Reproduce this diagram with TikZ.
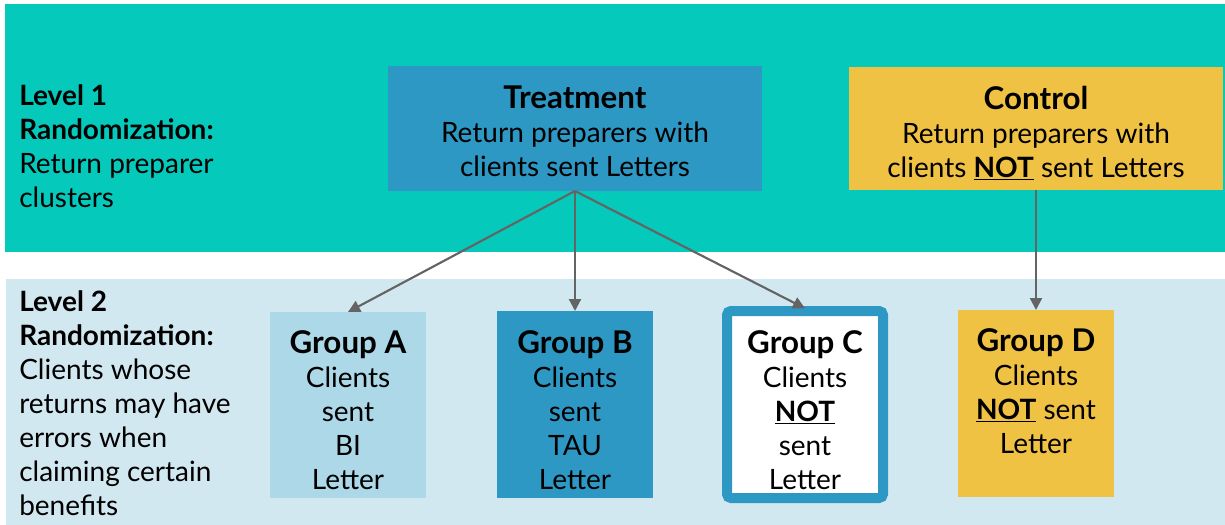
\documentclass[tikz,border=0pt]{standalone}
\usepackage{fontspec}
\setmainfont{Lato}
\usetikzlibrary{arrows.meta}
\definecolor{teal1}{RGB}{4,201,187}
\definecolor{lightbg}{RGB}{210,232,240}
\definecolor{blue1}{RGB}{46,152,196}
\definecolor{yellow1}{RGB}{240,194,68}
\definecolor{groupa}{RGB}{173,216,232}
\definecolor{arrowgray}{RGB}{100,100,100}
\newcommand\bodyfont{\fontsize{21pt}{25.5pt}\selectfont}
\newcommand\titlefont{\fontsize{23.5pt}{25.5pt}\selectfont\bfseries}
\newcommand\notu{\underline{NOT}}
\tikzset{
  boxnode/.style={draw=none, inner sep=0pt, outer sep=0pt, minimum width=117pt},
  txt/.style={inner sep=0pt, font=\bodyfont, text=black},
  conn/.style={draw=arrowgray, line width=1.6pt, -{Triangle[length=9pt,width=9pt]}}
}
\begin{document}
\begin{tikzpicture}[x=0.75pt,y=-0.75pt]
\useasboundingbox (0,0) rectangle (1225,525);
\fill[white] (0,0) rectangle (1225,525);
\fill[teal1] (5,4) rectangle (1225,252);
\fill[lightbg] (6,279) rectangle (1225,525);
% level boxes
\node[boxnode, fill=blue1, minimum width=280.5pt, minimum height=93.75pt] (treat) at (575,128.5) {};
\node[boxnode, fill=yellow1, minimum width=280.5pt, minimum height=92.25pt] (ctrl) at (1036,128.5) {};
\node[boxnode, fill=groupa, minimum height=139.5pt] (ga) at (348,405) {};
\node[boxnode, fill=blue1, minimum height=140.25pt] (gb) at (575,404.5) {};
\node[boxnode, fill=white, draw=blue1, line width=7.5pt, rounded corners=3pt, minimum height=140.25pt] (gc) at (805,404.5) {};
\node[boxnode, fill=yellow1, minimum height=140.25pt] (gd) at (1036,403.5) {};
% texts
\node[txt, anchor=north west, align=left] (l1) at (19,84) {\textbf{Level 1}\\\textbf{Randomization:}\\Return preparer\\clusters};
\node[txt, anchor=north west, align=left] (l2) at (19,290) {\textbf{Level 2}\\\textbf{Randomization:}\\Clients whose\\returns may have\\errors when\\claiming certain\\benefits};
\node[txt, anchor=north, align=center] (treattxt) at (575,86) {{\titlefont Treatment}\\Return preparers with\\clients sent Letters};
\node[txt, anchor=north, align=center] (ctrltxt) at (1036,86) {{\titlefont Control}\\Return preparers with\\clients \textbf{\notu} sent Letters};
\node[txt, anchor=north, align=center] (gatxt) at (348,330) {{\titlefont Group A}\\Clients\\sent\\BI\\Letter};
\node[txt, anchor=north, align=center] (gbtxt) at (575,330) {{\titlefont Group B}\\Clients\\sent\\TAU\\Letter};
\node[txt, anchor=north, align=center] (gctxt) at (805,330) {{\titlefont Group C}\\Clients\\\textbf{\notu}\\sent\\Letter};
\node[txt, anchor=north, align=center] (gdtxt) at (1036,328) {{\titlefont Group D}\\Clients\\\textbf{\notu} sent\\Letter};
% connectors
\draw[conn] (treat.south) -- (ga.north);
\draw[conn] (treat.south) -- (gb.north);
\draw[conn] (treat.south) -- ([yshift=2pt]gc.north);
\draw[conn] (ctrl.south) -- (gd.north);
\end{tikzpicture}
\end{document}
